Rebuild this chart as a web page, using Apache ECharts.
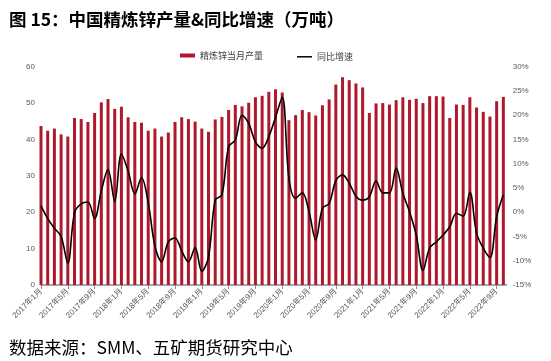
<!DOCTYPE html>
<html>
<head>
<meta charset="utf-8">
<script src="https://cdn.jsdelivr.net/npm/echarts@6/dist/echarts.min.js"></script>
<style>
html,body{margin:0;padding:0;background:#fff;}
#c{width:551px;height:361px;}
</style>
</head>
<body>
<div id="c"></div>
<script>
var months = [
'2017年1月','2017年2月','2017年3月','2017年4月','2017年5月','2017年6月','2017年7月','2017年8月','2017年9月','2017年10月','2017年11月','2017年12月',
'2018年1月','2018年2月','2018年3月','2018年4月','2018年5月','2018年6月','2018年7月','2018年8月','2018年9月','2018年10月','2018年11月','2018年12月',
'2019年1月','2019年2月','2019年3月','2019年4月','2019年5月','2019年6月','2019年7月','2019年8月','2019年9月','2019年10月','2019年11月','2019年12月',
'2020年1月','2020年2月','2020年3月','2020年4月','2020年5月','2020年6月','2020年7月','2020年8月','2020年9月','2020年10月','2020年11月','2020年12月',
'2021年1月','2021年2月','2021年3月','2021年4月','2021年5月','2021年6月','2021年7月','2021年8月','2021年9月','2021年10月','2021年11月','2021年12月',
'2022年1月','2022年2月','2022年3月','2022年4月','2022年5月','2022年6月','2022年7月','2022年8月','2022年9月','2022年10月'
];
var production = [
43.7,42.4,43.0,41.4,40.8,45.9,45.6,44.8,47.3,50.2,51.1,48.4,
49.0,46.1,44.8,44.6,42.4,43.0,40.8,41.9,44.8,46.1,45.6,44.9,
43.0,42.1,45.5,46.2,48.1,49.5,49.1,50.1,51.6,52.0,53.1,53.8,
52.9,45.3,46.7,48.1,47.5,46.6,49.4,51.0,55.1,57.1,56.3,55.4,
54.3,47.3,49.9,50.0,49.6,50.8,51.6,50.9,51.2,50.0,51.9,51.9,
51.8,45.9,49.6,49.5,51.6,48.8,47.6,46.3,50.5,51.7
];
var yoy = [
1.3,-1.3,-3.3,-5.0,-10.5,-0.1,1.7,2.1,-1.3,4.4,8.8,2.2,
12.0,8.5,3.8,7.1,2.0,-7.0,-10.2,-6.1,-5.3,-8.0,-10.2,-7.3,
-12.2,-9.2,2.5,3.6,13.5,14.9,20.0,18.3,14.5,13.2,15.6,19.6,
23.7,7.0,2.9,4.0,0.1,-5.7,0.8,1.8,6.5,7.7,6.0,3.3,
2.5,3.2,6.5,4.0,4.0,9.1,3.9,0.1,-4.7,-12.0,-7.4,-6.1,
-4.7,-3.0,-0.2,-0.8,4.1,-4.3,-7.4,-9.3,-0.9,3.6
];
var seriesNames = ['精炼锌当月产量','同比增速'];
var leftTicks = {min:0, max:60, interval:10};
var rightTicks = {min:-15, max:30, interval:5};
var labelStep = 4;

var tickIdx = months.map(function(_, i){return i;}).filter(function(i){return i % labelStep === 0;});
var font = 'Liberation Sans, Arial, Noto Sans CJK SC, sans-serif';
var chart = echarts.init(document.getElementById('c'), null, {renderer:'canvas'});
chart.setOption({
  animation:false,
  backgroundColor:'#fff',
  title:[
    {text:'图 15：中国精炼锌产量&同比增速（万吨）', left:4, top:6,
     textStyle:{fontSize:17.5, fontWeight:'bold', color:'#000', fontFamily:'Noto Sans CJK SC'}},
    {text:'数据来源：SMM、五矿期货研究中心', left:4, top:334,
     textStyle:{fontSize:17.5, fontWeight:'normal', color:'#000', fontFamily:'Noto Sans CJK SC'}}
  ],
  legend:[
    {data:[{name:seriesNames[0], icon:'rect'}], left:175, top:46, itemWidth:15, itemHeight:4, itemGap:0,
     textStyle:{fontSize:9, color:'#404040', fontFamily:'Noto Sans CJK SC'}},
    {data:[{name:seriesNames[1], icon:'rect'}], left:292, top:47.3, itemWidth:15, itemHeight:1.5, itemGap:0,
     itemStyle:{color:'#000'},
     textStyle:{fontSize:9, color:'#404040', fontFamily:'Noto Sans CJK SC'}}
  ],
  grid:{left:41, right:44.3, top:66.7, bottom:76, containLabel:false},
  xAxis:{
    type:'value', min:0, max:months.length - 0.5, interval:labelStep,
    axisLine:{show:true, lineStyle:{color:'#8c8c8c', width:1.5}},
    axisTick:{show:true, customValues:tickIdx, length:4, lineStyle:{color:'#8c8c8c', width:1}},
    axisLabel:{customValues:tickIdx, rotate:45, fontSize:8, color:'#595959', margin:5, fontFamily:font,
      formatter:function(v){ return months[Math.round(v)] && Math.round(v) % labelStep === 0 ? months[Math.round(v)] : ''; }},
    splitLine:{show:false}
  },
  yAxis:[
    {type:'value', min:leftTicks.min, max:leftTicks.max, interval:leftTicks.interval,
     axisLine:{show:false}, axisTick:{show:false}, splitLine:{show:false},
     axisLabel:{fontSize:8, color:'#595959', margin:6, fontFamily:font}},
    {type:'value', min:rightTicks.min, max:rightTicks.max, interval:rightTicks.interval,
     axisLine:{show:false}, axisTick:{show:false}, splitLine:{show:false},
     axisLabel:{fontSize:8, color:'#595959', margin:6, fontFamily:font, formatter:'{value}%'}}
  ],
  series:[
    {name:seriesNames[0], type:'bar', yAxisIndex:0, barWidth:3,
     itemStyle:{color:'#B0182C'},
     data:production.map(function(v,i){return [i,v];})},
    {name:seriesNames[1], type:'line', yAxisIndex:1, smooth:0.35, symbol:'none', showSymbol:false,
     lineStyle:{color:'#000', width:1.6}, itemStyle:{color:'#000'},
     data:yoy.map(function(v,i){return [i,v];})}
  ]
});
</script>
</body>
</html>
